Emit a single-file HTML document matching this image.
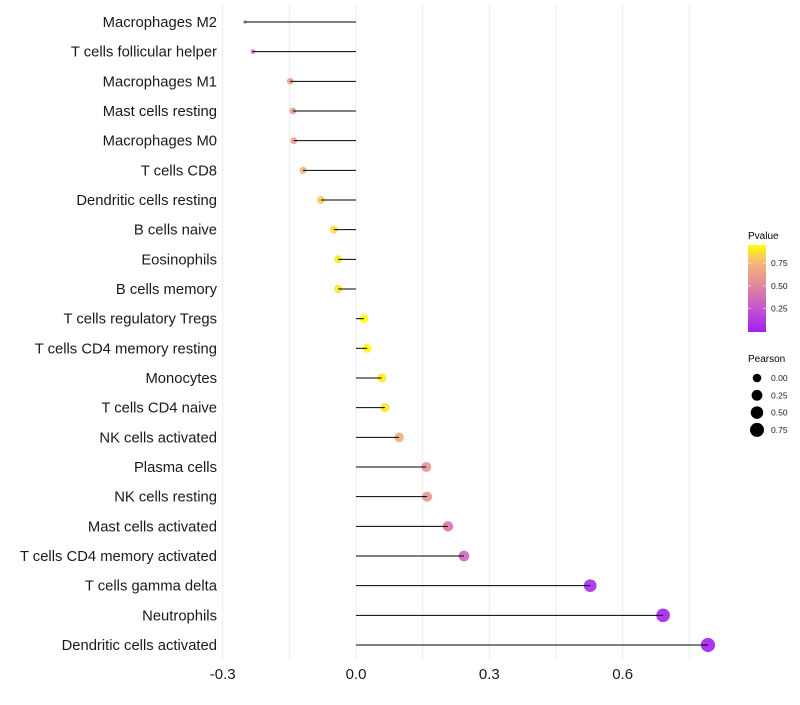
<!DOCTYPE html>
<html><head><meta charset="utf-8"><style>
body{margin:0;background:#fff;}
svg text{font-family:"Liberation Sans",sans-serif;}
</style></head><body>
<svg id="chart" width="800" height="700" xmlns="http://www.w3.org/2000/svg">
<defs>
<linearGradient id="pg" x1="0" y1="1" x2="0" y2="0">
<stop offset="0" stop-color="#a020f0"/><stop offset="0.27" stop-color="#c455d0"/><stop offset="0.53" stop-color="#e0879f"/><stop offset="0.8" stop-color="#f3b87a"/><stop offset="1" stop-color="#ffff00"/>
</linearGradient>
</defs>
<g id="grid"></g>
<g id="marks"></g>
<g id="labels"></g>
<g id="xticks"></g>
<g>
<text x="748" y="239" font-size="10">Pvalue</text>
<rect x="748" y="245" width="18" height="87" fill="url(#pg)"/>
<g id="cbticks"></g>
</g>
<g id="sizeleg">
<text x="748" y="362" font-size="10">Pearson</text>
</g>
</svg>
<script>
const categories=["Macrophages M2","T cells follicular helper","Macrophages M1","Mast cells resting","Macrophages M0","T cells CD8","Dendritic cells resting","B cells naive","Eosinophils","B cells memory","T cells regulatory  Tregs ","T cells CD4 memory resting","Monocytes","T cells CD4 naive","NK cells activated","Plasma cells","NK cells resting","Mast cells activated","T cells CD4 memory activated","T cells gamma delta","Neutrophils","Dendritic cells activated"];
const pearson=[-0.25,-0.232,-0.148,-0.142,-0.14,-0.119,-0.079,-0.05,-0.04,-0.04,0.018,0.025,0.058,0.065,0.097,0.158,0.16,0.207,0.243,0.527,0.691,0.792];
const pvalue=[0.3,0.35,0.6,0.6,0.6,0.7,0.8,0.85,0.88,0.88,0.95,0.93,0.9,0.88,0.7,0.58,0.58,0.42,0.35,0.05,0.02,0.01];
const xTicks=[-0.3,0,0.3,0.6];
const xTickLabels=["-0.3","0.0","0.3","0.6"];
const cbTicks=[0.25,0.5,0.75];
const sizeLegend=[0,0.25,0.5,0.75];
const NS="http://www.w3.org/2000/svg";
const x=v=>356+v*444.4;
const y=i=>22+i*29.667;
const rOf=v=>1.6+5.5*Math.sqrt(Math.max(0,(v+0.25)/1.04));
const stops=[[0,[160,32,240]],[0.25,[196,85,208]],[0.5,[224,135,159]],[0.75,[243,184,122]],[0.95,[255,255,0]]];
function col(p){p=Math.min(0.95,Math.max(0,p));for(let k=1;k<stops.length;k++){if(p<=stops[k][0]){const a=stops[k-1],b=stops[k],t=(p-a[0])/(b[0]-a[0]);return "rgb("+a[1].map((c,j)=>Math.round(c+(b[1][j]-c)*t)).join(",")+")";}}return "rgb(255,255,0)";}
function mk(tag,attrs,parent){const e=document.createElementNS(NS,tag);for(const k in attrs)e.setAttribute(k,attrs[k]);parent.appendChild(e);return e;}
const grid=document.getElementById('grid');
for(let v=-0.3;v<=0.76;v+=0.15){const l=mk('line',{x1:x(v),x2:x(v),y1:5,y2:660,stroke:'#ebebeb','stroke-width':1},grid);

}
const marks=document.getElementById('marks'),labels=document.getElementById('labels');
categories.forEach((c,i)=>{
 const pt=mk('circle',{cx:x(pearson[i]),cy:y(i),r:rOf(pearson[i]),fill:col(pvalue[i]),'fill-opacity':0.9},marks);
 
 
 const ln=mk('line',{x1:x(0),x2:x(pearson[i]),y1:y(i),y2:y(i),stroke:'#000','stroke-width':1},marks);
 
 
 const t=mk('text',{x:217,y:y(i)+5,'font-size':14.8,'text-anchor':'end',fill:'#1a1a1a'},labels);
 t.textContent=c;
 
 
});
const xt=document.getElementById('xticks');
xTicks.forEach((v,i)=>{const t=mk('text',{x:x(v),y:679,'font-size':15,'text-anchor':'middle',fill:'#1a1a1a'},xt);t.textContent=xTickLabels[i];

});
const cb=document.getElementById('cbticks');
cbTicks.forEach(v=>{const yy=331-v*90.4;
mk('line',{x1:748,x2:751,y1:yy,y2:yy,stroke:'#fff','stroke-opacity':0.6},cb);mk('line',{x1:763,x2:766,y1:yy,y2:yy,stroke:'#fff','stroke-opacity':0.6},cb);
const t=mk('text',{x:771,y:yy+3,'font-size':8.5,fill:'#1a1a1a'},cb);t.textContent=v.toFixed(2);

});
const sl=document.getElementById('sizeleg');
sizeLegend.forEach((v,i)=>{const yy=378+i*17.3;
const c=mk('circle',{cx:757,cy:yy,r:rOf(v),fill:'#000'},sl);


const t=mk('text',{x:771,y:yy+3,'font-size':8.5,fill:'#1a1a1a'},sl);t.textContent=v.toFixed(2);

});
</script>
</body></html>
